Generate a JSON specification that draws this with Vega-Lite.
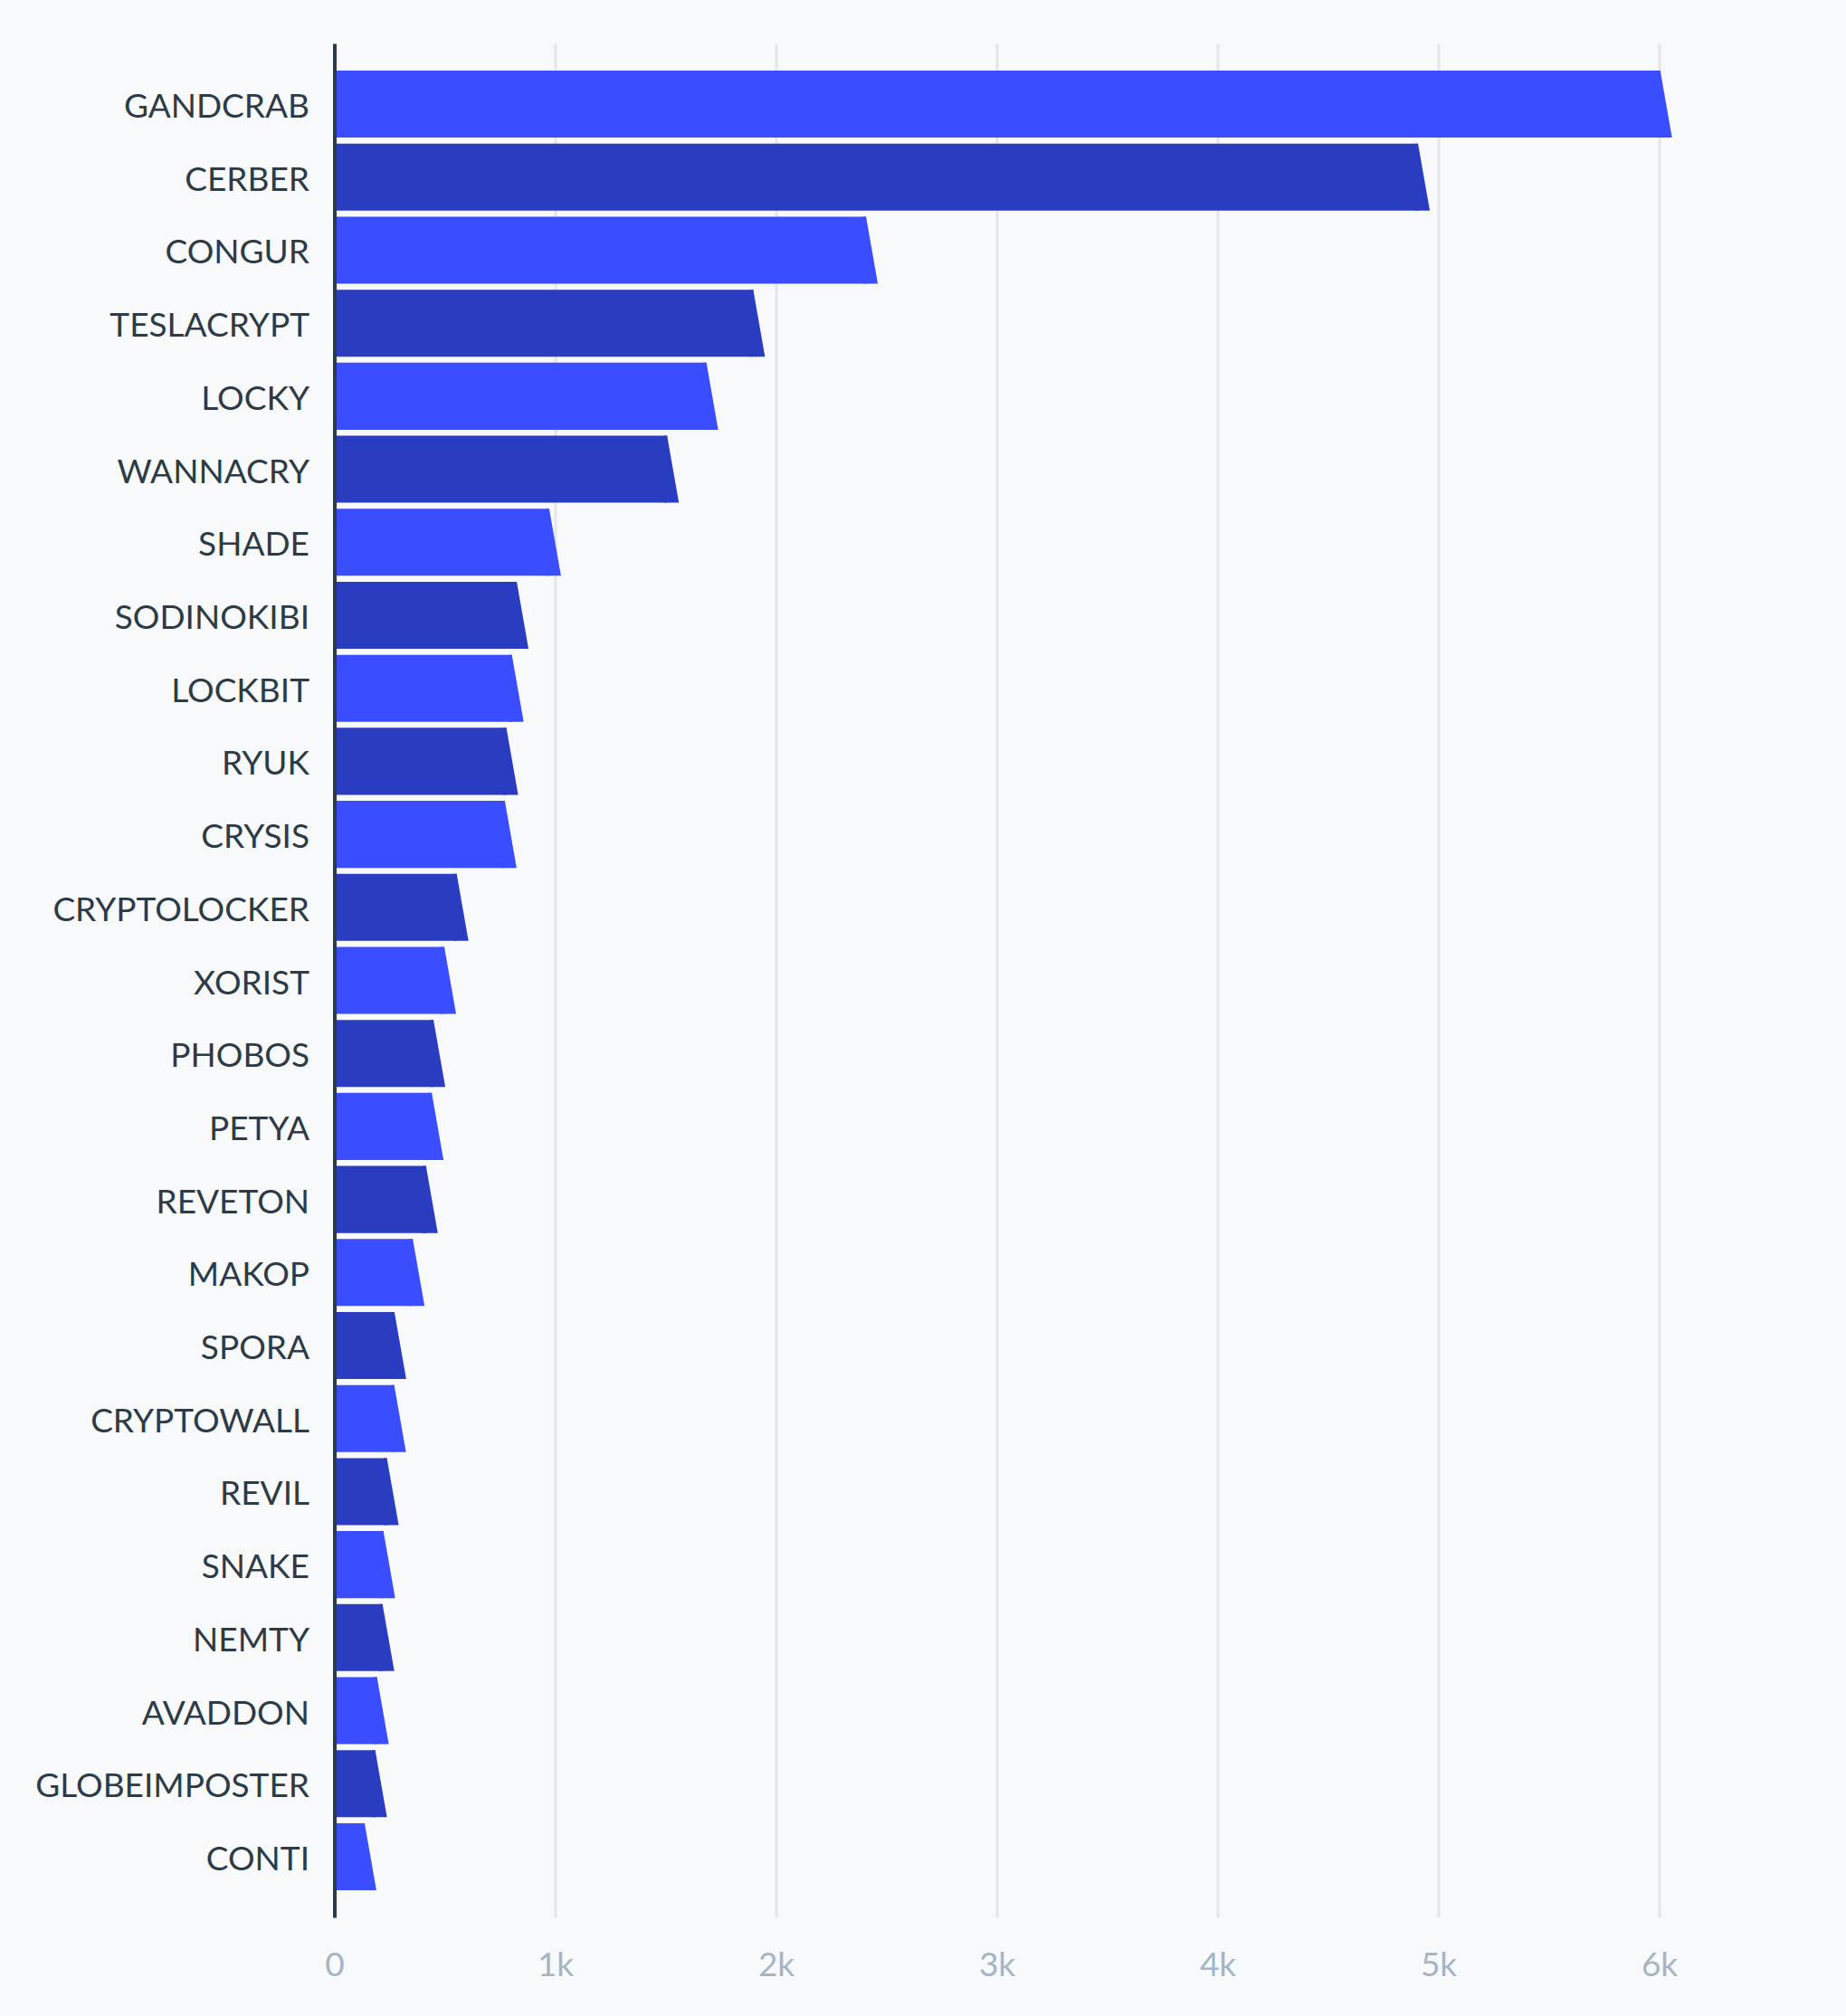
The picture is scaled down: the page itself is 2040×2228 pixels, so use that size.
{
  "$schema": "https://vega.github.io/schema/vega-lite/v6.json",
  "width": 1586,
  "height": 2071,
  "autosize": {"type": "none"},
  "padding": {"left": 369.5, "top": 48, "right": 84.5, "bottom": 109},
  "background": "#f7f9fb",
  "config": {"view": {"stroke": null}, "font": "Lato"},
  "data": {
    "values": [
      {"family": "GANDCRAB", "count": 6005},
      {"family": "CERBER", "count": 4908},
      {"family": "CONGUR", "count": 2408},
      {"family": "TESLACRYPT", "count": 1897},
      {"family": "LOCKY", "count": 1685},
      {"family": "WANNACRY", "count": 1507},
      {"family": "SHADE", "count": 973},
      {"family": "SODINOKIBI", "count": 826},
      {"family": "LOCKBIT", "count": 804},
      {"family": "RYUK", "count": 779},
      {"family": "CRYSIS", "count": 772},
      {"family": "CRYPTOLOCKER", "count": 554},
      {"family": "XORIST", "count": 498},
      {"family": "PHOBOS", "count": 449},
      {"family": "PETYA", "count": 441},
      {"family": "REVETON", "count": 415},
      {"family": "MAKOP", "count": 355},
      {"family": "SPORA", "count": 272},
      {"family": "CRYPTOWALL", "count": 271},
      {"family": "REVIL", "count": 238},
      {"family": "SNAKE", "count": 222},
      {"family": "NEMTY", "count": 218},
      {"family": "AVADDON", "count": 193},
      {"family": "GLOBEIMPOSTER", "count": 185},
      {"family": "CONTI", "count": 137}
    ]
  },
  "encoding": {
    "y": {
      "field": "family",
      "type": "nominal",
      "sort": null,
      "title": null,
      "scale": {"paddingInner": 0.082, "paddingOuter": 0.372},
      "axis": {
        "zindex": 1,
        "ticks": false,
        "grid": false,
        "domainColor": "#2d3b47",
        "domainWidth": 4,
        "labelFontSize": 37,
        "labelColor": "#2d3b47",
        "labelPadding": 28,
        "labelOffset": 4,
        "labelLimit": 400
      }
    },
    "x": {
      "field": "count",
      "type": "quantitative",
      "title": null,
      "scale": {"domain": [0, 6500], "nice": false},
      "axis": {
        "zindex": 0,
        "values": [0, 1000, 2000, 3000, 4000, 5000, 6000],
        "labelExpr": "datum.value == 0 ? '0' : (datum.value / 1000) + 'k'",
        "labelFlush": false,
        "domain": false,
        "ticks": false,
        "grid": true,
        "gridColor": "#e4e6ea",
        "gridWidth": 3,
        "labelFontSize": 37,
        "labelColor": "#a5b5c4",
        "labelPadding": 35
      }
    },
    "color": {
      "field": "family",
      "type": "nominal",
      "sort": null,
      "legend": null,
      "scale": {"range": ["#3a4eff", "#2a3cbf"]}
    }
  },
  "layer": [
    {"mark": {"type": "bar"}},
    {
      "mark": {
        "type": "point",
        "shape": "M-0.1,-1 L0,-1 L0.351,1 L-0.1,1 Z",
        "size": 5488,
        "filled": true,
        "opacity": 1,
        "strokeWidth": 0
      }
    }
  ]
}
